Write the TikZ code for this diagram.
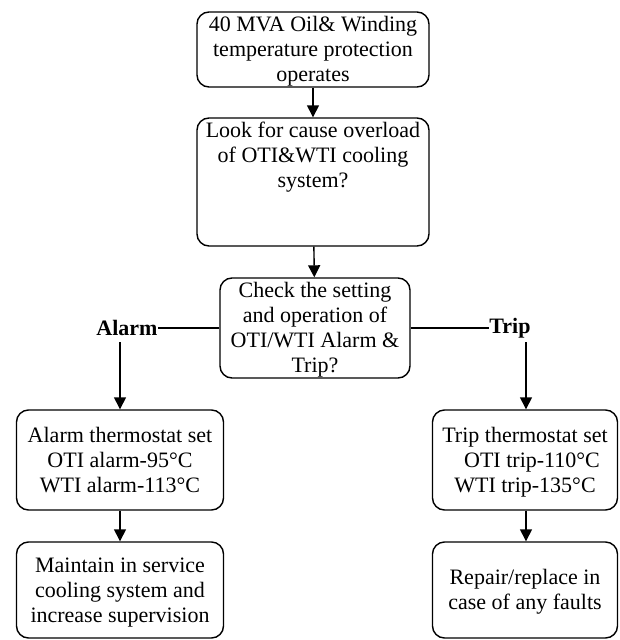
\documentclass[tikz,border=0pt]{standalone}
\usepackage{fontspec}
\setmainfont{Liberation Serif}
\usetikzlibrary{arrows.meta}
\newcommand\tstr{\rule{0pt}{19.6pt}}
\newcommand\bstr{\rule[-4.8pt]{0pt}{4.8pt}}
\begin{document}
\begin{tikzpicture}[x=1pt,y=-1pt,
  box/.style={draw, line width=1.4pt, rounded corners=12pt, align=center, inner sep=0pt},
  txt/.style={align=center, inner sep=0pt},
  lbl/.style={inner sep=0pt, font=\fontsize{22}{25}\selectfont\bfseries},
  arr/.style={line width=1.4pt, -{Triangle[length=12pt,width=12pt]}},
  ln/.style={line width=1.4pt},
  every node/.append style={font=\fontsize{22}{25}\selectfont}]
\useasboundingbox (0,0) rectangle (619,640);
\node[box, minimum width=232pt, minimum height=75pt] (b1) at (313,49.5)
  {\tstr 40 MVA Oil\& Winding\\temperature protection\\operates\bstr};
\node[box, minimum width=232pt, minimum height=128pt] (b2) at (313,182) {};
\node[txt, anchor=north] (t2) at (313,118)
  {\tstr Look for cause overload\\of OTI\&WTI cooling\\system?};
\node[box, minimum width=190pt, minimum height=100pt] (b3) at (315,328)
  {\tstr Check the setting\\and operation of\\OTI/WTI Alarm \&\\Trip?\bstr};
\node[lbl] (alarm) at (127,328) {Alarm};
\node[lbl] (trip) at (510,328) {Trip};
\node[box, minimum width=207pt, minimum height=100pt] (b4) at (120,460)
  {\tstr Alarm thermostat set\\OTI alarm-95°C\\WTI alarm-113°C\bstr};
\node[box, minimum width=207pt, minimum height=96pt] (b5) at (120,590)
  {\tstr Maintain in service\\cooling system and\\increase supervision\bstr};
\node[box, minimum width=185pt, minimum height=100pt] (b6) at (525,460)
  {\tstr Trip thermostat set\\\hspace{14pt}OTI trip-110°C\\WTI trip-135°C\bstr};
\node[box, minimum width=185pt, minimum height=96pt] (b7) at (525,590)
  {\tstr Repair/replace in\\case of any faults\bstr};
\coordinate (as) at (120,342);
\coordinate (ts) at (526,342);
\draw[arr] (b1) -- (b2);
\draw[arr] (b2) -- (b3);
\draw[ln] (b3.west) -- (alarm.east);
\draw[ln] (b3.east) -- (trip.west);
\draw[arr] (as) -- (as |- b4.north);
\draw[arr] (ts) -- (ts |- b6.north);
\draw[arr] (b4) -- (b5);
\draw[arr] (b6.south -| ts) -- (b7.north -| ts);
\end{tikzpicture}
\end{document}
